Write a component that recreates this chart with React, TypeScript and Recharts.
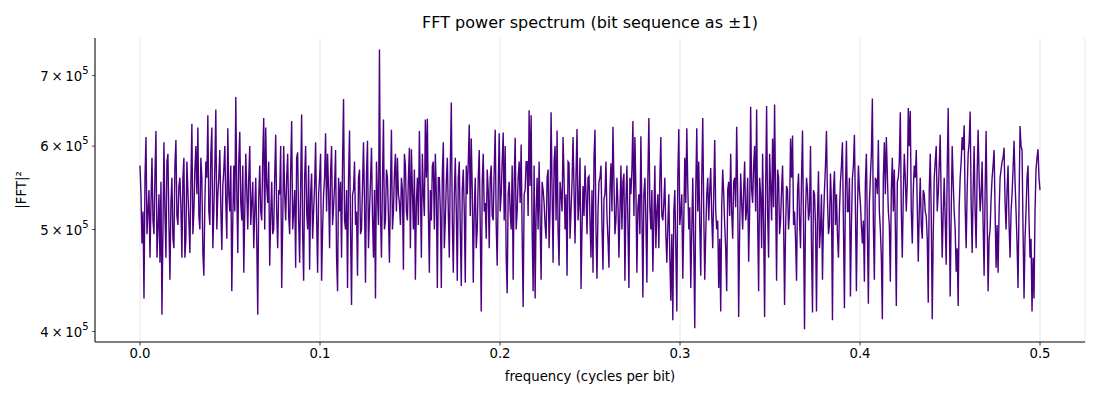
import { LineChart, Line, XAxis, YAxis, CartesianGrid } from 'recharts'

// |FFT|^2, in thousands, one list per 0.05-wide band.
// powerBandN holds the even bins, powerMidN the odd bins that sit between them.
const powerBand1 = [
  575, 485, 430, 612, 520, 470, 585, 495, 620, 500, 465, 415, 605, 470, 590, 448, 560, 480, 608, 505,
  560, 470, 585, 490, 545, 475, 630, 520, 600, 625, 500, 560, 452, 580, 642, 505, 625, 520, 650, 540,
  595, 478, 570, 530, 624, 520, 437, 575, 668, 475,
]
const powerMid1 = [
  540, 520, 560, 495, 545, 530, 510, 565, 470, 540, 555, 500, 520, 580, 505, 530, 490, 575, 515, 550,
  525, 560, 470, 580, 510, 555, 495, 570, 540, 515, 585, 475, 530, 560, 520, 590, 480, 575, 500, 560,
  525, 550, 600, 490, 540, 575, 510, 520, 545, 580,
]
const powerBand2 = [
  619, 510, 455, 590, 500, 600, 530, 480, 560, 415, 575, 510, 638, 625, 530, 462, 555, 500, 615, 480,
  540, 440, 600, 510, 590, 495, 634, 520, 460, 592, 465, 643, 447, 600, 500, 458, 565, 520, 605, 455,
  560, 447, 540, 617, 590, 480, 600, 525, 595, 437,
]
const powerMid2 = [
  530, 575, 520, 545, 560, 505, 555, 520, 490, 535, 520, 585, 500, 550, 580, 515, 495, 560, 520, 545,
  600, 505, 540, 560, 515, 570, 500, 545, 585, 510, 550, 495, 560, 520, 575, 540, 490, 550, 515, 540,
  590, 500, 560, 520, 545, 565, 505, 550, 470, 560,
]
const powerBand3 = [
  520, 470, 665, 500, 440, 621, 424, 545, 505, 452, 570, 500, 605, 445, 607, 520, 598, 470, 430, 540,
  741, 470, 636, 510, 560, 465, 622, 520, 590, 585, 530, 560, 458, 575, 510, 598, 596, 500, 448, 560,
  620, 470, 540, 636, 637, 455, 510, 580, 590, 440,
]
const powerMid3 = [
  555, 580, 510, 545, 560, 500, 540, 580, 520, 560, 495, 550, 530, 565, 480, 555, 515, 545, 580, 505,
  520, 555, 500, 570, 515, 545, 500, 565, 520, 540, 505, 545, 590, 520, 560, 480, 545, 570, 530, 505,
  545, 590, 515, 560, 520, 545, 575, 500, 540, 560,
]
const powerBand4 = [
  560, 440, 605, 510, 585, 470, 660, 455, 585, 447, 580, 442, 570, 445, 540, 629, 610, 445, 560, 500,
  595, 418, 590, 530, 570, 480, 575, 510, 622, 462, 617, 540, 618, 600, 435, 555, 500, 448, 611, 520,
  580, 602, 422, 545, 580, 649, 642, 437, 430, 560,
]
const powerMid4 = [
  520, 565, 480, 555, 520, 575, 510, 540, 520, 560, 500, 545, 520, 575, 580, 515, 545, 520, 480, 560,
  505, 555, 520, 490, 545, 560, 515, 570, 505, 545, 520, 580, 510, 470, 540, 520, 575, 555, 500, 560,
  530, 495, 540, 580, 515, 550, 500, 575, 520, 500,
]
const powerBand5 = [
  580, 448, 545, 505, 560, 480, 646, 465, 600, 621, 462, 540, 612, 500, 452, 578, 520, 612, 485, 623,
  530, 439, 550, 575, 495, 562, 470, 455, 622, 449, 555, 575, 458, 540, 515, 460, 578, 626, 495, 560,
  470, 575, 555, 447, 575, 440, 540, 634, 612, 455,
]
const powerMid5 = [
  510, 555, 530, 490, 570, 525, 545, 580, 510, 500, 555, 520, 560, 540, 580, 490, 555, 545, 565, 510,
  585, 500, 515, 540, 560, 510, 545, 585, 500, 520, 560, 505, 535, 580, 490, 545, 520, 555, 510, 530,
  520, 500, 565, 530, 505, 560, 570, 515, 545, 525,
]
const powerBand6 = [
  540, 613, 431, 560, 445, 638, 500, 456, 575, 520, 480, 612, 510, 560, 465, 540, 428, 410, 545, 418,
  623, 520, 449, 585, 624, 500, 440, 560, 403, 624, 580, 452, 638, 448, 540, 510, 572, 480, 608, 500,
  440, 418, 570, 505, 437, 555, 590, 490, 560, 626,
]
const powerMid6 = [
  495, 520, 540, 510, 560, 525, 545, 510, 480, 540, 560, 515, 530, 495, 505, 470, 495, 520, 480, 560,
  505, 540, 510, 530, 550, 525, 500, 480, 545, 520, 505, 560, 520, 495, 560, 545, 515, 540, 520, 510,
  490, 525, 540, 480, 545, 515, 520, 555, 525, 540,
]
const powerBand7 = [
  413, 565, 500, 580, 520, 466, 654, 530, 600, 650, 437, 540, 590, 413, 655, 470, 550, 610, 657, 447,
  560, 510, 575, 424, 550, 500, 610, 614, 520, 447, 565, 480, 621, 402, 560, 510, 600, 417, 540, 418,
  568, 500, 448, 545, 620, 495, 565, 410, 568, 540,
]
const powerMid7 = [
  500, 530, 545, 510, 560, 520, 545, 575, 520, 510, 560, 480, 505, 545, 520, 590, 510, 525, 540, 570,
  495, 545, 510, 500, 545, 520, 560, 505, 490, 545, 510, 560, 505, 520, 545, 520, 480, 545, 505, 515,
  480, 540, 510, 575, 535, 505, 530, 545, 505, 495,
]
const powerBand8 = [
  470, 555, 605, 421, 607, 520, 432, 560, 615, 437, 575, 530, 485, 446, 590, 425, 560, 666, 448, 556,
  608, 500, 411, 605, 612, 520, 446, 585, 570, 423, 560, 646, 470, 590, 520, 652, 648, 485, 575, 595,
  466, 560, 490, 540, 515, 426, 590, 411, 560, 600,
]
const powerMid8 = [
  520, 575, 505, 545, 520, 560, 505, 575, 525, 520, 545, 505, 510, 555, 500, 530, 590, 505, 560, 540,
  520, 470, 560, 540, 565, 505, 545, 520, 505, 555, 580, 520, 540, 560, 555, 600, 520, 545, 560, 525,
  520, 505, 545, 520, 490, 545, 515, 495, 580, 520,
]
const powerBand9 = [
  540, 615, 470, 560, 463, 652, 432, 600, 520, 456, 423, 560, 612, 628, 480, 590, 647, 475, 600, 480,
  622, 520, 580, 452, 620, 437, 500, 560, 595, 460, 455, 560, 580, 598, 500, 575, 470, 540, 607, 520,
  440, 627, 595, 430, 520, 575, 470, 418, 430, 570, 596, 545,
]
const powerMid9 = [
  575, 530, 520, 510, 570, 525, 520, 555, 500, 480, 525, 580, 595, 525, 545, 605, 530, 545, 520, 565,
  560, 540, 505, 545, 515, 490, 535, 575, 520, 505, 520, 570, 585, 530, 545, 505, 520, 570, 555, 485,
  530, 600, 500, 490, 560, 510, 490, 470, 520, 585, 560,
]

const xTicks = [0, 0.1, 0.2, 0.3, 0.4, 0.5]
const yTicks = [400000, 500000, 600000, 700000]

const bands: [number[], number[]][] = [
  [powerBand1, powerMid1], [powerBand2, powerMid2], [powerBand3, powerMid3],
  [powerBand4, powerMid4], [powerBand5, powerMid5], [powerBand6, powerMid6],
  [powerBand7, powerMid7], [powerBand8, powerMid8], [powerBand9, powerMid9],
]
const power: number[] = []
for (const [even, odd] of bands) {
  even.forEach((v, i) => {
    power.push(v)
    if (i < odd.length) power.push(odd[i])
  })
}
// rfft bins run from 0 up to the Nyquist frequency 0.5 cycles per bit
const data = power.map((p, i) => ({
  freq: (i * 0.5) / (power.length - 1),
  power: p * 1000,
}))

const FONT = 'DejaVu Sans, sans-serif'

function LogTick(props: any) {
  const { x, y, payload } = props
  const mant = Math.round((payload.value as number) / 100000)
  return (
    <text x={x} y={y} textAnchor="end" dominantBaseline="central" fontSize={13.3} fontFamily={FONT} fill="#000">
      <tspan>{`${mant}\u2009×\u200910`}</tspan>
      <tspan dy={-6} fontSize={10}>5</tspan>
    </text>
  )
}

export default function App() {
  return (
    <div style={{ position: 'relative', width: 1092, height: 392, fontFamily: FONT }}>
      <div
        style={{
          position: 'absolute', left: 87, width: 990, top: 6, textAlign: 'center',
          fontSize: 16, lineHeight: '18px', color: '#000',
        }}
      >
        FFT power spectrum (bit sequence as ±1)
      </div>
      <LineChart width={1092} height={392} data={data} margin={{ top: 30, right: 15, bottom: 28, left: 7 }}>
        <CartesianGrid horizontal={false} stroke="#e2e2e2" strokeWidth={0.8} />
        <XAxis
          dataKey="freq"
          type="number"
          domain={[-0.025, 0.525]}
          ticks={xTicks}
          tickFormatter={(v: number) => v.toFixed(1)}
          height={30}
          tickSize={3.5}
          tickMargin={3.5}
          tick={{ fill: '#000', fontSize: 13.3, fontFamily: FONT }}
          axisLine={{ stroke: '#000', strokeWidth: 1 }}
          tickLine={{ stroke: '#000', strokeWidth: 0.8 }}
        />
        <YAxis
          scale="log"
          domain={[391000, 760000]}
          allowDataOverflow
          ticks={yTicks}
          width={80}
          tickSize={3}
          tickMargin={3.5}
          tick={<LogTick />}
          axisLine={{ stroke: '#000', strokeWidth: 1 }}
          tickLine={{ stroke: '#000', strokeWidth: 0.7 }}
        />
        <Line
          type="linear"
          dataKey="power"
          stroke="#4B0082"
          strokeWidth={1.4}
          dot={false}
          isAnimationActive={false}
        />
      </LineChart>
      <div
        style={{
          position: 'absolute', left: 87, width: 990, top: 361, textAlign: 'center',
          fontSize: 13.3, lineHeight: '16px', color: '#000',
        }}
      >
        frequency (cycles per bit)
      </div>
      <div
        style={{
          position: 'absolute', left: 14, top: 182, transform: 'translate(-50%, -50%) rotate(-90deg)',
          fontSize: 13.3, lineHeight: '16px', whiteSpace: 'nowrap', color: '#000',
        }}
      >
        |FFT|²
      </div>
    </div>
  )
}
